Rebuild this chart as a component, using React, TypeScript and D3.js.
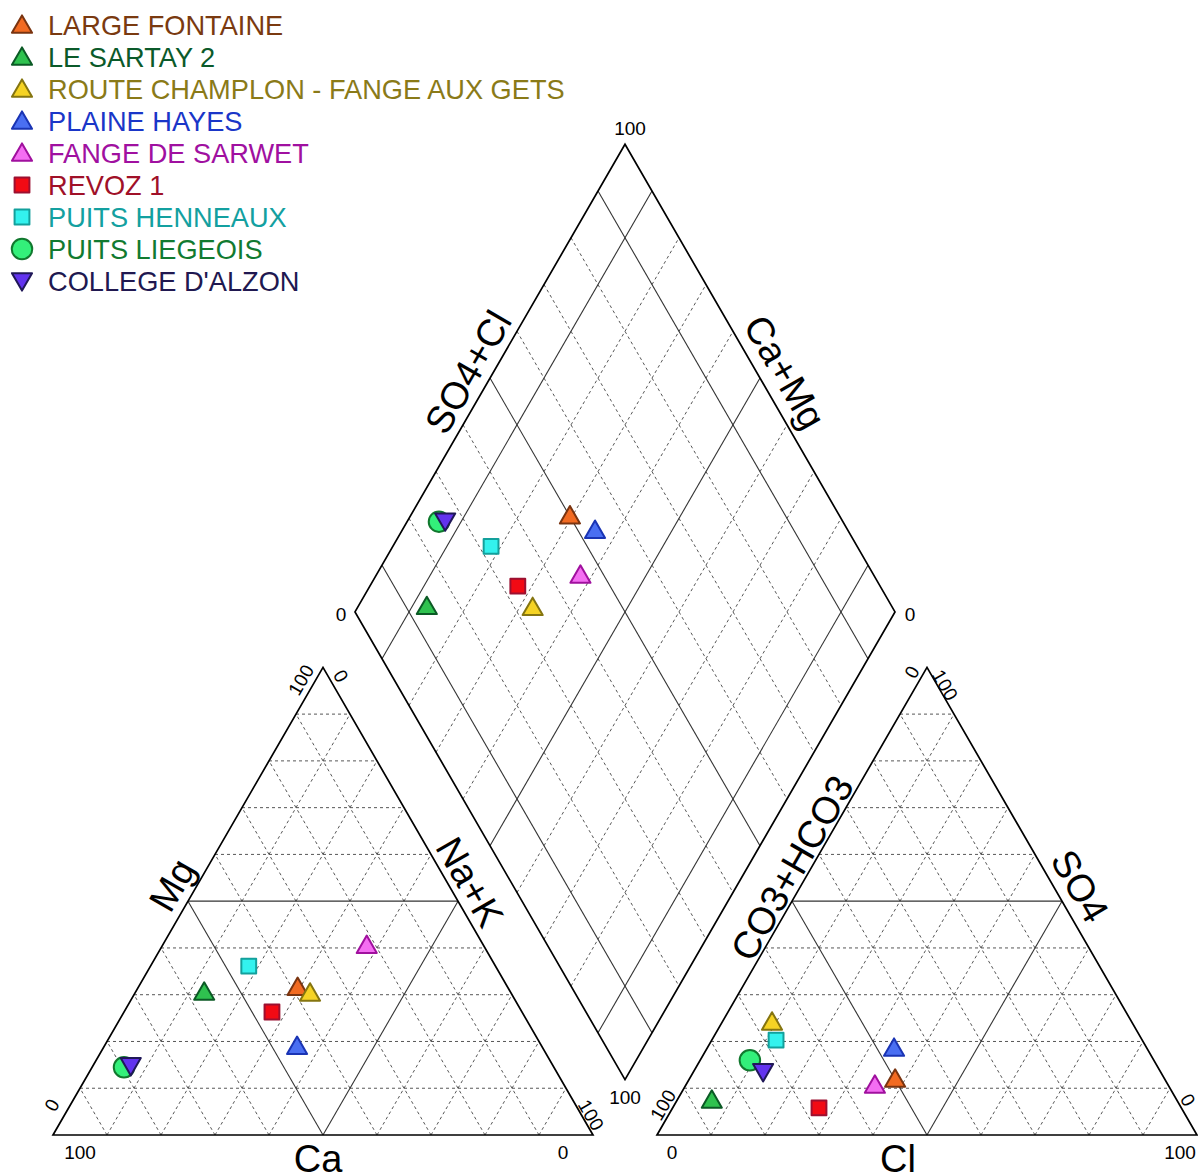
import React from "react";
import * as d3 from "d3";

const names = [
  "LARGE FONTAINE",
  "LE SARTAY 2",
  "ROUTE CHAMPLON - FANGE AUX GETS",
  "PLAINE HAYES",
  "FANGE DE SARWET",
  "REVOZ 1",
  "PUITS HENNEAUX",
  "PUITS LIEGEOIS",
  "COLLEGE D'ALZON",
];
// cations (% meq)
const caPct = [38.9, 56.7, 37.2, 45.3, 21.6, 46.3, 45.7, 79.6, 78.2];
const mgPct = [31.6, 30.6, 30.4, 19.0, 40.6, 26.3, 36.1, 14.5, 14.8];
const naKPct = [29.5, 12.7, 32.4, 35.7, 37.8, 27.4, 18.2, 5.9, 7.0];
// anions (% meq)
const hco3Pct = [49.9, 86.1, 66.6, 46.8, 54.3, 67.1, 67.8, 74.8, 73.6];
const so4Pct = [12.0, 7.5, 24.2, 18.6, 10.7, 5.8, 20.3, 16.0, 13.5];
const clPct = [38.1, 6.4, 9.2, 34.6, 35.0, 27.1, 11.9, 9.2, 12.9];

const symbols = ["tri", "tri", "tri", "tri", "tri", "sq", "sq", "circ", "itri"];
const fills = ["#f26b22", "#2fc24f", "#f5d324", "#4a6ff2", "#f46ef2", "#f20a14", "#33f2ee", "#33f07a", "#6233ee"];
const strokes = ["#7a3410", "#0b5a25", "#857510", "#1a34b4", "#a0109e", "#9c1030", "#13a09c", "#11782e", "#201858"];
const textColors = ["#7a3a10", "#0b5a2a", "#8a7a18", "#1a36c8", "#a010a0", "#a01028", "#13a0a0", "#117a30", "#201850"];

const ticks = d3.range(10, 100, 10);

const W = 1198, HGT = 1176;
const L = 540;
const H = (L * Math.sqrt(3)) / 2;
const X0 = 53;
const BASE = 1135;
const GAP = 64;
const XR = X0 + L + GAP;

type P = [number, number];
const pct = d3.scaleLinear().domain([0, 100]).range([0, 1]);
const lerp = (a: P, b: P, t: number): P => [a[0] + (b[0] - a[0]) * t, a[1] + (b[1] - a[1]) * t];
const add = (a: P, b: P): P => [a[0] + b[0], a[1] + b[1]];
const sub = (a: P, b: P): P => [a[0] - b[0], a[1] - b[1]];
const mul = (a: P, t: number): P => [a[0] * t, a[1] * t];

const LT: P[] = [[X0, BASE], [X0 + L, BASE], [X0 + L / 2, BASE - H]];
const RT: P[] = [[XR, BASE], [XR + L, BASE], [XR + L / 2, BASE - H]];
const DB: P = [X0 + L + GAP / 2, BASE - (GAP * Math.sqrt(3)) / 2];
const DL: P = [DB[0] - L / 2, DB[1] - H];
const DT: P = [DB[0], DB[1] - 2 * H];
const DR: P = [DB[0] + L / 2, DB[1] - H];

function triPoint(tri: P[], right: number, top: number): P {
  // right: weight of bottom-right corner, top: weight of apex
  const x = tri[0][0] + pct(right) * L + (pct(top) * L) / 2;
  const y = tri[0][1] - pct(top) * H;
  return [x, y];
}
function diamondPoint(a: number, c: number): P {
  return add(add(DL, mul(sub(DT, DL), pct(a))), mul(sub(DB, DL), pct(c)));
}

function triGrid(tri: P[]) {
  const [p0, p1, p2] = tri;
  const lines: { a: P; b: P; solid: boolean }[] = [];
  ticks.forEach((t) => {
    const f = pct(t);
    lines.push({ a: lerp(p0, p2, f), b: lerp(p1, p2, f), solid: t === 50 });
    lines.push({ a: lerp(p1, p0, f), b: lerp(p2, p0, f), solid: t === 50 });
    lines.push({ a: lerp(p0, p1, f), b: lerp(p2, p1, f), solid: t === 50 });
  });
  return lines;
}
function diamondGrid() {
  const lines: { a: P; b: P; solid: boolean }[] = [];
  ticks.forEach((t) => {
    const f = pct(t);
    const s = t === 10 || t === 50 || t === 90;
    const pa = lerp(DL, DT, f);
    lines.push({ a: pa, b: add(pa, sub(DB, DL)), solid: s });
    const pc = lerp(DL, DB, f);
    lines.push({ a: pc, b: add(pc, sub(DT, DL)), solid: s });
  });
  return lines;
}

function symPath(kind: string, size: number) {
  if (kind === "sq") return d3.symbol().type(d3.symbolSquare).size(size)() as string;
  if (kind === "circ") return d3.symbol().type(d3.symbolCircle).size(size)() as string;
  return d3.symbol().type(d3.symbolTriangle).size(size)() as string;
}
function Marker({ i, x, y, scale = 1 }: { i: number; x: number; y: number; scale?: number }) {
  const k = symbols[i];
  const size = (k === "sq" ? 220 : k === "circ" ? 330 : 175) * scale;
  const rot = k === "itri" ? 180 : 0;
  const dy = k === "tri" ? 2 : k === "itri" ? -2 : 0;
  return (
    <path
      d={symPath(k, size)}
      transform={`translate(${x},${y + dy}) rotate(${rot})`}
      fill={fills[i]}
      stroke={strokes[i]}
      strokeWidth={2}
      strokeLinejoin="round"
    />
  );
}

const FONT = "Liberation Sans, Arial, sans-serif";

function NumLabel({ x, y, t, rot = 0 }: { x: number; y: number; t: string; rot?: number }) {
  return (
    <text x={x} y={y} dy="0.35em" textAnchor="middle" fontSize={19} fontFamily={FONT} fill="#000" transform={`rotate(${rot},${x},${y})`}>
      {t}
    </text>
  );
}
function AxisLabel({ x, y, t, rot = 0 }: { x: number; y: number; t: string; rot?: number }) {
  return (
    <text x={x} y={y} dy="0.35em" textAnchor="middle" fontSize={38} fontFamily={FONT} fill="#000" transform={`rotate(${rot},${x},${y})`}>
      {t}
    </text>
  );
}

export default function App() {
  const grids = [...triGrid(LT), ...triGrid(RT), ...diamondGrid()];
  const poly = (pts: P[]) => pts.map((p) => p.join(",")).join(" ");
  return (
    <svg width={W} height={HGT} style={{ position: "absolute", left: 0, top: 0, background: "#fff" }}>
      <rect width={W} height={HGT} fill="#fff" />
      {grids.map((g, i) => (
        <line
          key={i}
          x1={g.a[0]}
          y1={g.a[1]}
          x2={g.b[0]}
          y2={g.b[1]}
          stroke={g.solid ? "#333" : "#444"}
          strokeWidth={g.solid ? 1.1 : 0.9}
          strokeDasharray={g.solid ? undefined : "3,3"}
        />
      ))}
      <polygon points={poly(LT)} fill="none" stroke="#000" strokeWidth={1.7} />
      <polygon points={poly(RT)} fill="none" stroke="#000" strokeWidth={1.7} />
      <polygon points={poly([DL, DT, DR, DB])} fill="none" stroke="#000" strokeWidth={1.7} />

      {/* axis labels */}
      <AxisLabel x={468} y={372} t="SO4+Cl" rot={-60} />
      <AxisLabel x={785} y={372} t="Ca+Mg" rot={60} />
      <AxisLabel x={172} y={885} t="Mg" rot={-60} />
      <AxisLabel x={470} y={882} t="Na+K" rot={60} />
      <AxisLabel x={792} y={868} t="CO3+HCO3" rot={-60} />
      <AxisLabel x={1080} y={886} t="SO4" rot={60} />
      <AxisLabel x={318} y={1159} t="Ca" />
      <AxisLabel x={898} y={1159} t="Cl" />

      {/* tick numbers */}
      <NumLabel x={630} y={128} t="100" />
      <NumLabel x={341} y={614} t="0" />
      <NumLabel x={910} y={614} t="0" />
      <NumLabel x={625} y={1097} t="100" />
      <NumLabel x={80} y={1152} t="100" />
      <NumLabel x={563} y={1152} t="0" />
      <NumLabel x={52} y={1105} t="0" rot={-60} />
      <NumLabel x={301} y={680} t="100" rot={-60} />
      <NumLabel x={341} y={676} t="0" rot={60} />
      <NumLabel x={591} y={1115} t="100" rot={60} />
      <NumLabel x={672} y={1152} t="0" />
      <NumLabel x={1180} y={1152} t="100" />
      <NumLabel x={663} y={1105} t="100" rot={-60} />
      <NumLabel x={912} y={672} t="0" rot={-60} />
      <NumLabel x={945} y={685} t="100" rot={60} />
      <NumLabel x={1188} y={1100} t="0" rot={60} />

      {/* data points */}
      {names.map((n, i) => {
        const pc = triPoint(LT, naKPct[i], mgPct[i]);
        const pa = triPoint(RT, clPct[i], so4Pct[i]);
        const pd = diamondPoint(so4Pct[i] + clPct[i], naKPct[i]);
        return (
          <g key={n}>
            <Marker i={i} x={pc[0]} y={pc[1]} />
            <Marker i={i} x={pa[0]} y={pa[1]} />
            <Marker i={i} x={pd[0]} y={pd[1]} />
          </g>
        );
      })}

      {/* legend */}
      {names.map((n, i) => {
        const y = 25 + i * 32;
        return (
          <g key={"lg" + n}>
            <Marker i={i} x={22} y={y} scale={1} />
            <text x={48} y={y} dy="0.36em" fontSize={27.2} fontFamily={FONT} fill={textColors[i]}>
              {n}
            </text>
          </g>
        );
      })}
    </svg>
  );
}
